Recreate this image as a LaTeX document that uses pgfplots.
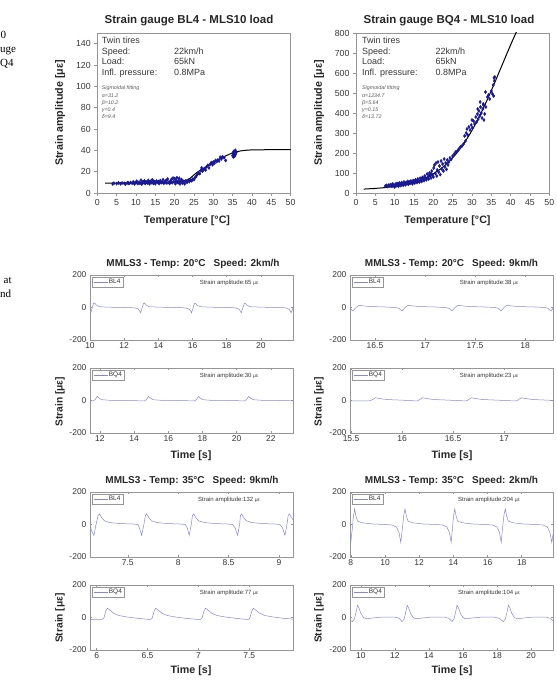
\documentclass[border=0pt]{standalone}
\usepackage{fontspec}
\setmainfont{Liberation Sans}
\newfontfamily\seriffont{Liberation Serif}
\usepackage{pgfplots}
\pgfplotsset{compat=1.18}
\definecolor{panelblue}{RGB}{135,135,215}
\definecolor{scatblue}{RGB}{25,25,150}
\definecolor{axgray}{RGB}{150,150,150}
\definecolor{txtgray}{RGB}{55,55,55}
\pgfplotsset{
  topplot/.style={scale only axis, width=193.3pt, height=160pt,
    xmin=0, xmax=50, xtick={0,5,...,50},
    axis line style={draw=axgray, line width=0.6pt},
    tick style={draw=axgray, line width=0.6pt},
    tick align=outside, tick pos=left, major tick length=3pt,
    ticklabel style={font=\fontsize{8.8}{10}\selectfont, text=txtgray},
    /pgf/number format/assume math mode=true},
  panel/.style={scale only axis, width=203pt, height=65pt,
    ymin=-200, ymax=200, ytick={-200,0,200},
    axis line style={draw=axgray, line width=0.6pt},
    tick style={draw=axgray, line width=0.5pt},
    tick align=inside, major tick length=2pt,
    ticklabel style={font=\fontsize{8.5}{10}\selectfont, text=txtgray},
    xticklabel style={yshift=1pt},
    /pgf/number format/assume math mode=true,
    legend style={at={(0,1)}, anchor=north west, xshift=1.7pt, yshift=-1.7pt,
      draw=axgray, font=\fontsize{6.5}{7.5}\selectfont, inner xsep=1.5pt, inner ysep=1pt,
      nodes={inner sep=1pt, text=txtgray}},
    legend image code/.code={\draw[panelblue, line width=0.5pt] (0pt,0pt) -- (14pt,0pt);},
    every axis plot/.append style={line width=0.5pt, color=panelblue}},
  pline/.style={line width=0.5pt, color=panelblue}
}
\newcommand{\amp}[1]{\node[font=\fontsize{6}{7}\selectfont, text=txtgray] at (rel axis cs:0.685,0.885) {Strain amplitude:#1 {\fontsize{5}{6}\selectfont με}};}
\begin{document}
\begin{tikzpicture}[x=1pt,y=1pt]
\useasboundingbox (0,0) rectangle (556,684);
% cut-off caption text at left edge
\node[font=\seriffont\fontsize{11}{13}\selectfont, anchor=base east, inner sep=0] at (6.3,645) {0};
\node[font=\seriffont\fontsize{11}{13}\selectfont, anchor=base west, inner sep=0] at (0,631) {uge};
\node[font=\seriffont\fontsize{11}{13}\selectfont, anchor=base west, inner sep=0] at (0,617) {Q4};
\node[font=\seriffont\fontsize{11}{13}\selectfont, anchor=base west, inner sep=0] at (3.5,400) {at};
\node[font=\seriffont\fontsize{11}{13}\selectfont, anchor=base west, inner sep=0] at (0,386) {nd};

% ---------------- Top left: BL4 ----------------
\begin{axis}[topplot, at={(97.3pt,491pt)}, anchor=south west,
  ymin=0, ymax=150, ytick={0,20,...,140}]
\addplot[only marks, mark=diamond*, mark size=1.6pt, color=scatblue] coordinates {
(4.0,8.5) (4.3,9.2) (5.0,8.8) (5.5,9.5) (6.0,8.7) (6.4,9.3) (7.0,9.0) (7.3,8.4) (7.8,9.6) (8.2,8.9)
(8.6,9.8) (9.0,9.2) (9.3,10.4) (9.6,8.6) (10.0,9.5) (10.2,11.0) (10.5,8.8) (10.8,10.2) (11.0,9.1) (11.3,12.0)
(11.5,8.4) (11.8,10.6) (12.0,9.8) (12.2,11.4) (12.4,8.9) (12.7,10.3) (13.0,9.4) (13.2,11.8) (13.5,8.6) (13.7,10.9)
(14.0,9.7) (14.2,12.3) (14.5,9.0) (14.8,10.5) (15.0,8.7) (15.3,11.2) (15.5,9.9) (15.8,10.8) (16.0,8.8) (16.3,11.6)
(16.5,9.6) (16.8,10.2) (17.0,12.4) (17.2,9.1) (17.5,10.7) (17.8,11.9) (18.0,9.4) (18.2,13.0) (18.5,10.1) (18.7,8.9)
(19.0,11.5) (19.2,12.8) (19.4,9.7) (19.6,14.0) (19.8,10.6) (20.0,13.5) (20.2,8.7) (20.4,12.1) (20.6,14.3) (20.8,9.9)
(21.0,11.2) (21.2,13.8) (21.4,8.5) (21.6,10.4) (21.8,12.6) (22.0,9.3) (22.3,10.9) (22.6,8.6) (22.9,11.3) (23.2,10.0)
(23.5,11.9) (23.8,10.7) (24.1,12.2) (24.4,11.5) (24.7,13.0) (25.0,12.5) (25.3,14.5) (25.6,16.0) (25.9,17.5) (26.2,19.0)
(26.5,18.2) (26.8,21.0) (27.0,23.5) (27.2,20.5) (27.5,22.0) (27.8,23.0) (28.0,21.5) (28.3,24.5) (28.6,26.0) (28.9,23.5)
(29.2,27.0) (29.5,28.5) (29.8,26.5) (30.0,29.0) (30.3,28.0) (30.6,30.5) (30.9,29.5) (31.2,31.0) (31.5,30.0) (31.8,33.5)
(32.1,32.0) (32.4,34.0) (32.8,33.0) (33.2,30.5) (35.0,35.0) (35.1,37.5) (35.2,33.8) (35.3,39.0) (35.4,36.0) (35.5,38.5)
(35.6,35.2) (35.7,40.0) (35.8,37.0) (35.9,38.0) (35.5,34.5) (35.3,36.8) (35.7,36.5)
(12.5,10.0) (14.6,11.0) (16.1,10.3) (17.6,9.8) (19.1,10.2) (20.5,11.0) (21.1,9.6) (11.6,9.4) (9.8,9.8) (8.0,9.4)
};
\addplot[black, line width=1pt, smooth] coordinates {
(2,9.3) (6,9.4) (10,9.6) (15,9.9) (18,10.2) (20,10.6) (21,11) (22,11.4) (23,12) (24,13.8) (25,17) (26,19.8)
(27,22) (28,24.2) (29,26.3) (30,28.5) (31,30.6) (32,32.6) (33,34.4) (34,36.1) (35,37.5) (36,38.6) (37,39.4)
(38,39.9) (39,40.2) (40,40.4) (42,40.5) (46,40.6) (50,40.6)
};
\end{axis}
\node[font=\bfseries\fontsize{11.5}{13}\selectfont, text=black!85, anchor=base] at (189,660) {Strain gauge BL4 - MLS10 load};
\node[font=\bfseries\fontsize{10.7}{12}\selectfont, text=black!85, rotate=90] at (60,571) {Strain amplitude [με]};
\node[font=\bfseries\fontsize{10.7}{12}\selectfont, text=black!85, anchor=base] at (187,460) {Temperature [°C]};
\begin{scope}[every node/.style={font=\fontsize{9}{10}\selectfont, text=txtgray, anchor=base west, inner sep=0}]
\node at (101.7,640.3) {Twin tires};
\node at (101.7,629.3) {Speed:};
\node at (101.7,619.3) {Load:};
\node at (101.7,608.6) {Infl. pressure:};
\node at (174,629.3) {22km/h};
\node at (174,619.3) {65kN};
\node at (174,608.6) {0.8MPa};
\end{scope}
\begin{scope}[every node/.style={font=\itshape\fontsize{5.3}{6}\selectfont, text=black!65, anchor=base west, inner sep=0}]
\node at (101.7,594) {Sigmoidal fitting};
\node at (101.7,586.5) {α=31.2};
\node at (101.7,579.5) {β=10.2};
\node at (101.7,572.5) {γ=0.4};
\node at (101.7,565) {δ=9.4};
\end{scope}

% ---------------- Top right: BQ4 ----------------
\begin{axis}[topplot, at={(356pt,491pt)}, anchor=south west,
  ymin=0, ymax=800, ytick={0,100,...,800}]
\addplot[only marks, mark=diamond*, mark size=1.6pt, color=scatblue] coordinates {
(7.6,35) (7.9,38) (8.2,32) (8.5,40) (8.8,36) (9.0,42) (9.3,33) (9.5,45) (9.8,38) (10.0,30)
(10.2,44) (10.4,36) (10.6,48) (10.8,40) (11.0,34) (11.2,50) (11.4,42) (11.6,37) (11.8,52) (12.0,45)
(12.2,39) (12.4,55) (12.6,47) (12.8,41) (13.0,53) (13.2,46) (13.4,58) (13.6,44) (13.8,55) (14.0,49)
(14.2,60) (14.4,52) (14.6,46) (14.8,62) (15.0,55) (15.2,50) (15.4,66) (15.6,58) (15.8,52) (16.0,70)
(16.2,61) (16.4,55) (16.6,74) (16.8,64) (17.0,58) (17.2,78) (17.4,68) (17.6,62) (17.8,85) (18.0,72)
(18.2,66) (18.4,95) (18.6,78) (18.8,70) (19.0,100) (19.2,85) (19.4,75) (19.6,110) (19.8,90) (20.0,80)
(20.1,125) (20.3,140) (20.5,98) (20.7,150) (20.9,85) (21.0,115) (21.2,155) (21.4,105) (21.6,135) (21.8,92)
(22.0,160) (22.2,120) (22.4,145) (22.6,110) (22.8,170) (23.0,130) (23.2,150) (23.4,118) (23.6,165) (23.8,140)
(24.0,155) (24.3,175) (24.6,168) (25.0,185) (25.4,195) (25.8,205) (26.2,210) (26.6,220) (27.0,230) (27.4,235)
(27.8,245) (28.1,285) (28.3,260) (28.5,300) (28.7,320) (28.9,290) (29.2,330) (29.5,315) (29.8,340) (30.1,325)
(30.4,360) (30.7,345) (31.0,380) (31.2,355) (31.4,395) (31.6,370) (31.8,410) (32.0,385) (32.2,430) (32.4,400)
(32.6,375) (32.8,420) (33.0,440) (33.1,365) (33.3,395) (33.5,505) (33.6,430) (34.0,480) (34.3,490) (34.6,470)
(35.0,510) (35.3,495) (35.5,540) (35.7,575) (35.8,560) (35.9,580) (35.6,485) (32.1,455) (32.9,445) (31.5,420) (30.0,365)
(9.1,37) (10.9,43) (12.9,48) (14.9,57) (16.9,70) (18.9,88) (19.5,95) (17.5,74) (15.5,60) (13.5,50)
};
\addplot[black, line width=1pt, smooth] coordinates {
(2,19.6) (4,21.7) (6,24.4) (8,28.1) (10,33.1) (12,39.7) (14,48.5) (16,60.3) (18,75.7) (20,96.0)
(22,122.2) (24,155.8) (26,198.0) (28,250.2) (30,312.9) (32,386.0) (34,468.3) (36,557.4) (38,649.5) (40,740.9) (42,827.6)
};
\end{axis}
\node[font=\bfseries\fontsize{11.5}{13}\selectfont, text=black!85, anchor=base] at (449,660) {Strain gauge BQ4 - MLS10 load};
\node[font=\bfseries\fontsize{10.7}{12}\selectfont, text=black!85, rotate=90] at (319,571) {Strain amplitude [με]};
\node[font=\bfseries\fontsize{10.7}{12}\selectfont, text=black!85, anchor=base] at (447.5,460) {Temperature [°C]};
\begin{scope}[every node/.style={font=\fontsize{9}{10}\selectfont, text=txtgray, anchor=base west, inner sep=0}]
\node at (362,640.3) {Twin tires};
\node at (362,629.3) {Speed:};
\node at (362,619.3) {Load:};
\node at (362,608.6) {Infl. pressure:};
\node at (435.3,629.3) {22km/h};
\node at (435.3,619.3) {65kN};
\node at (435.3,608.6) {0.8MPa};
\end{scope}
\begin{scope}[every node/.style={font=\itshape\fontsize{5.3}{6}\selectfont, text=black!65, anchor=base west, inner sep=0}]
\node at (362,594) {Sigmoidal fitting};
\node at (362,586.5) {α=1234.7};
\node at (362,579.5) {β=5.64};
\node at (362,572.5) {γ=0.15};
\node at (362,565) {δ=13.72};
\end{scope}

% ---------------- Panel titles and labels ----------------
\node[font=\bfseries\fontsize{10}{12}\selectfont, text=black!85, anchor=base] at (193,417) {MMLS3 - Temp: 20°C\hspace{8pt}Speed: 2km/h};
\node[font=\bfseries\fontsize{10}{12}\selectfont, text=black!85, anchor=base] at (451.5,417) {MMLS3 - Temp: 20°C\hspace{8pt}Speed: 9km/h};
\node[font=\bfseries\fontsize{10}{12}\selectfont, text=black!85, anchor=base] at (192,200.7) {MMLS3 - Temp: 35°C\hspace{8pt}Speed: 9km/h};
\node[font=\bfseries\fontsize{10}{12}\selectfont, text=black!85, anchor=base] at (451.5,200.7) {MMLS3 - Temp: 35°C\hspace{8pt}Speed: 2km/h};
\node[font=\bfseries\fontsize{10.7}{12}\selectfont, text=black!85, anchor=base] at (191,225) {Time [s]};
\node[font=\bfseries\fontsize{10.7}{12}\selectfont, text=black!85, anchor=base] at (452,225) {Time [s]};
\node[font=\bfseries\fontsize{10.7}{12}\selectfont, text=black!85, anchor=base] at (191,10) {Time [s]};
\node[font=\bfseries\fontsize{10.7}{12}\selectfont, text=black!85, anchor=base] at (452,10) {Time [s]};
\node[font=\bfseries\fontsize{10.2}{12}\selectfont, text=black!85, rotate=90] at (60,282.3) {Strain [με]};
\node[font=\bfseries\fontsize{10.2}{12}\selectfont, text=black!85, rotate=90] at (319,282.3) {Strain [με]};
\node[font=\bfseries\fontsize{10.2}{12}\selectfont, text=black!85, rotate=90] at (60,66) {Strain [με]};
\node[font=\bfseries\fontsize{10.2}{12}\selectfont, text=black!85, rotate=90] at (319,66) {Strain [με]};

% ---------------- Panel A ----------------
\begin{axis}[panel, at={(90pt,344pt)}, anchor=south west, xmin=10, xmax=21.88, xtick={10,12,...,20}]
\addplot[pline] coordinates {
(10.0,-25) (10.05,-30) (10.12,-5) (10.2,25) (10.27,28) (10.37,15) (10.55,5) (11.0,2) (12.0,0)
(12.6,-2) (12.8,-8) (12.9,-20) (12.95,-33) (13.03,-10) (13.12,22) (13.18,28) (13.28,15) (13.45,5) (14.0,2) (15.0,0)
(15.55,-2) (15.8,-10) (15.9,-22) (15.94,-33) (16.02,-8) (16.1,22) (16.16,28) (16.26,15) (16.45,5) (17.0,2) (18.0,0)
(18.5,-2) (18.72,-10) (18.8,-22) (18.85,-33) (18.93,-8) (19.02,22) (19.08,28) (19.18,15) (19.35,5) (20.0,2) (21.0,0)
(21.45,-2) (21.65,-10) (21.72,-22) (21.77,-33) (21.85,-10) (21.88,0)
};
\addlegendentry{BL4}
\amp{65}
\end{axis}

% ---------------- Panel B ----------------
\begin{axis}[panel, at={(90pt,251pt)}, anchor=south west, xmin=11.42, xmax=23.3, xtick={12,14,...,22}]
\addplot[pline] coordinates {
(11.42,-3) (11.6,-3) (11.72,5) (11.84,25) (11.95,15) (12.1,5) (12.6,1) (13.5,0)
(14.4,-2) (14.6,-3) (14.72,5) (14.85,25) (14.96,15) (15.1,5) (15.6,1) (16.5,0)
(17.3,-2) (17.52,-3) (17.65,5) (17.77,25) (17.88,15) (18.03,5) (18.5,1) (19.5,0)
(20.3,-2) (20.45,-3) (20.58,5) (20.7,25) (20.81,15) (20.96,5) (21.5,1) (22.5,0) (23.3,-2)
};
\addlegendentry{BQ4}
\amp{30}
\end{axis}

% ---------------- Panel C ----------------
\begin{axis}[panel, at={(350pt,344pt)}, anchor=south west, xmin=16.25, xmax=18.28, xtick={16.5,17,17.5,18}]
\addplot[pline] coordinates {
(16.25,-5) (16.28,-22) (16.31,0) (16.34,14) (16.38,10) (16.45,6) (16.6,3) (16.7,0)
(16.74,-5) (16.77,-22) (16.80,0) (16.83,14) (16.87,10) (16.94,6) (17.1,3) (17.2,0)
(17.24,-5) (17.27,-22) (17.30,0) (17.33,14) (17.37,10) (17.44,6) (17.6,3) (17.7,0)
(17.73,-5) (17.76,-22) (17.79,0) (17.82,14) (17.86,10) (17.93,6) (18.1,3) (18.2,0)
(18.23,-5) (18.26,-22) (18.28,-5)
};
\addlegendentry{BL4}
\amp{38}
\end{axis}

% ---------------- Panel D ----------------
\begin{axis}[panel, at={(350pt,251pt)}, anchor=south west, xmin=15.49, xmax=17.48, xtick={15.5,16,16.5,17}]
\addplot[pline] coordinates {
(15.49,-2) (15.68,-3) (15.71,5) (15.74,17) (15.78,12) (15.85,6) (16.0,2)
(16.12,-2) (16.15,-3) (16.17,5) (16.20,17) (16.24,12) (16.31,6) (16.46,2)
(16.6,-2) (16.63,-3) (16.65,5) (16.68,17) (16.72,12) (16.79,6) (16.94,2)
(17.08,-2) (17.12,-3) (17.14,5) (17.17,17) (17.21,12) (17.28,6) (17.43,2) (17.48,0)
};
\addlegendentry{BQ4}
\amp{23}
\end{axis}

% ---------------- Panel E ----------------
\begin{axis}[panel, at={(90pt,127pt)}, anchor=south west, xmin=7.125, xmax=9.14, xtick={7.5,8,8.5,9}]
\addplot[pline] coordinates {
(7.125,-10) (7.145,-45) (7.164,-67) (7.185,0) (7.205,55) (7.22,65) (7.24,42) (7.27,22) (7.32,12) (7.42,6) (7.55,3) (7.6,0)
(7.615,-20) (7.637,-67) (7.66,0) (7.675,55) (7.688,65) (7.708,42) (7.738,22) (7.79,12) (7.89,6) (8.02,3) (8.07,0)
(8.09,-20) (8.11,-67) (8.13,0) (8.142,55) (8.155,65) (8.175,42) (8.205,22) (8.26,12) (8.36,6) (8.49,3) (8.54,0)
(8.565,-20) (8.59,-67) (8.61,0) (8.618,55) (8.63,65) (8.65,42) (8.68,22) (8.73,12) (8.83,6) (8.96,3) (9.01,0)
(9.035,-20) (9.06,-67) (9.08,0) (9.092,55) (9.105,65) (9.125,42) (9.14,30)
};
\addlegendentry{BL4}
\amp{132}
\end{axis}

% ---------------- Panel F ----------------
\begin{axis}[panel, at={(90pt,34pt)}, anchor=south west, xmin=5.934, xmax=7.93, xtick={6,6.5,7,7.5}]
\addplot[pline] coordinates {
(5.934,-12) (6.05,-12) (6.07,-5) (6.09,40) (6.105,57) (6.13,45) (6.17,25) (6.22,12) (6.3,3) (6.4,-5) (6.5,-11)
(6.53,-12) (6.545,-5) (6.565,40) (6.58,57) (6.605,45) (6.645,25) (6.695,12) (6.775,3) (6.875,-5) (6.98,-11)
(7.02,-12) (7.035,-5) (7.055,40) (7.07,57) (7.095,45) (7.135,25) (7.185,12) (7.265,3) (7.365,-5) (7.46,-11)
(7.49,-12) (7.505,-5) (7.525,40) (7.54,57) (7.565,45) (7.605,25) (7.655,12) (7.735,3) (7.835,-5) (7.93,-10)
};
\addlegendentry{BQ4}
\amp{77}
\end{axis}

% ---------------- Panel G ----------------
\begin{axis}[panel, at={(350pt,127pt)}, anchor=south west, xmin=7.95, xmax=19.83, xtick={8,10,...,18}]
\addplot[pline] coordinates {
(7.95,-85) (8.0,-105) (8.08,-30) (8.15,50) (8.22,95) (8.3,50) (8.4,20) (8.7,10) (9.3,3) (10.0,0)
(10.4,-3) (10.67,-15) (10.82,-50) (10.92,-110) (11.02,-20) (11.1,60) (11.17,95) (11.25,50) (11.35,20) (11.65,10) (12.25,3) (13.0,0)
(13.35,-3) (13.62,-15) (13.77,-50) (13.87,-110) (13.95,-20) (14.02,60) (14.08,95) (14.16,50) (14.26,20) (14.56,10) (15.16,3) (15.9,0)
(16.28,-3) (16.55,-15) (16.7,-50) (16.8,-110) (16.88,-20) (16.96,60) (17.04,95) (17.12,50) (17.22,20) (17.52,10) (18.12,3) (18.85,0)
(19.24,-3) (19.5,-15) (19.65,-50) (19.76,-110) (19.83,-60)
};
\addlegendentry{BL4}
\amp{204}
\end{axis}

% ---------------- Panel H ----------------
\begin{axis}[panel, at={(350pt,34pt)}, anchor=south west, xmin=9.36, xmax=21.29, xtick={10,12,...,20}]
\addplot[pline] coordinates {
(9.36,-18) (9.5,-25) (9.62,-10) (9.72,35) (9.8,75) (9.88,60) (10.0,25) (10.15,0) (10.3,-8) (10.7,-3) (11.3,3) (12.0,2)
(12.25,-5) (12.42,-25) (12.54,-10) (12.64,35) (12.72,75) (12.8,60) (12.92,25) (13.07,0) (13.22,-8) (13.62,-3) (14.22,3) (14.92,2)
(15.17,-5) (15.35,-25) (15.47,-10) (15.57,35) (15.65,75) (15.73,60) (15.85,25) (16.0,0) (16.15,-8) (16.55,-3) (17.15,3) (17.85,2)
(18.12,-5) (18.37,-25) (18.49,-10) (18.59,35) (18.67,75) (18.75,60) (18.87,25) (19.02,0) (19.17,-8) (19.57,-3) (20.17,3) (20.87,2)
(21.12,-5) (21.29,-20)
};
\addlegendentry{BQ4}
\amp{104}
\end{axis}
\end{tikzpicture}
\end{document}
